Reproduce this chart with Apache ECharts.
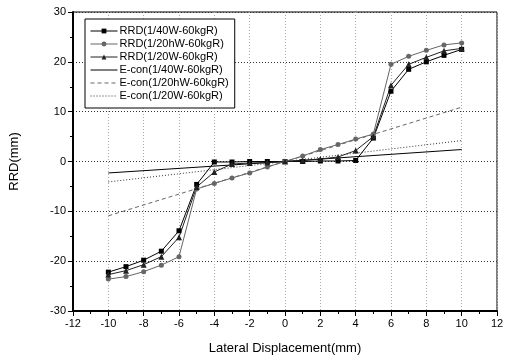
<!DOCTYPE html>
<html>
<head>
<meta charset="utf-8">
<script src="https://cdn.jsdelivr.net/npm/echarts@6/dist/echarts.min.js"></script>
<style>
  html, body { margin: 0; padding: 0; background: #fff; }
  #chart { width: 507px; height: 360px; }
</style>
</head>
<body>
<div id="chart"></div>
<script>
// lateral displacement steps (mm)
const xSteps = [-10, -9, -8, -7, -6, -5, -4, -3, -2, -1, 0, 1, 2, 3, 4, 5, 6, 7, 8, 9, 10]

// measured RRD (mm)
const rrd40W = [-22.2, -21.1, -19.8, -18.0, -13.9, -4.6, -0.1, -0.1, 0, 0, 0, 0, 0.1, 0.1, 0.2, 4.7, 14.1, 18.5, 20.0, 21.3, 22.5]
const rrd20hW = [-23.6, -23.1, -22.1, -20.8, -19.1, -5.5, -4.4, -3.3, -2.3, -1.1, 0, 1.1, 2.4, 3.4, 4.5, 5.5, 19.5, 21.1, 22.3, 23.4, 23.8]
const rrd20W = [-22.7, -21.9, -20.7, -19.1, -15.2, -5.1, -2.1, -0.5, -0.3, -0.2, 0, 0.2, 0.5, 0.9, 2.2, 5.0, 15.3, 19.5, 20.9, 22.2, 22.7]

// E-con lines, end points
const econX = [-10, 0, 10]
const econ40W = [-2.3, 0, 2.4]
const econ20hW = [-10.9, 0, 10.9]
const econ20W = [-4.1, 0, 4.2]

const xTicks = { min: -12, max: 12, interval: 2 }
const yTicks = { min: -30, max: 30, interval: 10 }

const pair = (xs, ys) => xs.map((x, i) => [x, ys[i]])

const font = '"Liberation Sans", Arial, sans-serif'

const myChart = echarts.init(document.getElementById('chart'))

const markerSeries = (name, data, symbol, size, color) => ({
  name,
  type: 'line',
  data: pair(xSteps, data),
  symbol,
  symbolSize: size,
  showAllSymbol: true,
  animation: false,
  lineStyle: { color, width: 1 },
  itemStyle: { color, borderWidth: 0 },
  z: 5,
})

const econSeries = (name, data, type, color) => ({
  name,
  type: 'line',
  data: pair(econX, data),
  symbol: 'none',
  animation: false,
  lineStyle: { color, width: 1, type },
  itemStyle: { color: 'rgba(0,0,0,0)', borderColor: 'rgba(0,0,0,0)', borderWidth: 0 },
  z: 4,
})

// legend entries of the E-con lines are bare lines
const hideMark = (name) => ({ name, itemStyle: { opacity: 0 } })

myChart.setOption({
  backgroundColor: '#fff',
  textStyle: { fontFamily: font },
  grid: {
    left: 73,
    right: 10,
    top: 12,
    bottom: 49,
    show: true,
    borderColor: '#000',
    borderWidth: 1,
  },
  legend: {
    orient: 'vertical',
    left: 85,
    top: 19,
    padding: [6, 6, 6, 5],
    itemGap: 1,
    itemWidth: 27,
    itemHeight: 6,
    backgroundColor: '#fff',
    borderColor: '#000',
    borderWidth: 1,
    lineStyle: { width: 1 },
    textStyle: { fontSize: 11, color: '#000', fontFamily: font, padding: [0, 0, 0, -3], lineHeight: 12 },
    data: [
      'RRD(1/40W-60kgR)',
      'RRD(1/20hW-60kgR)',
      'RRD(1/20W-60kgR)',
      hideMark('E-con(1/40W-60kgR)'),
      hideMark('E-con(1/20hW-60kgR)'),
      hideMark('E-con(1/20W-60kgR)'),
    ],
  },
  xAxis: {
    type: 'value',
    min: xTicks.min,
    max: xTicks.max,
    interval: xTicks.interval,
    name: 'Lateral Displacement(mm)',
    nameLocation: 'middle',
    nameGap: 31,
    nameTextStyle: { fontSize: 13, color: '#000', fontFamily: font },
    axisLine: { onZero: false, lineStyle: { color: '#000', width: 2 } },
    axisTick: { show: true, length: 5, lineStyle: { color: '#000', width: 1 } },
    minorTick: { show: true, splitNumber: 2, length: 3, lineStyle: { color: '#000', width: 1 } },
    axisLabel: { fontSize: 11, color: '#000', margin: 7, fontFamily: font },
    splitLine: { show: true, lineStyle: { color: '#aaa', type: [1, 2], width: 1 } },
  },
  yAxis: {
    type: 'value',
    min: yTicks.min,
    max: yTicks.max,
    interval: yTicks.interval,
    name: 'RRD(mm)',
    nameLocation: 'middle',
    nameGap: 52,
    nameTextStyle: { fontSize: 13, color: '#000', fontFamily: font },
    axisLine: { onZero: false, lineStyle: { color: '#000', width: 2 } },
    axisTick: { show: true, length: 5, lineStyle: { color: '#000', width: 1 } },
    minorTick: { show: true, splitNumber: 2, length: 3, lineStyle: { color: '#000', width: 1 } },
    axisLabel: { fontSize: 11, color: '#000', margin: 7, fontFamily: font },
    splitLine: { show: true, lineStyle: { color: '#333', type: [1, 2], width: 1 } },
  },
  series: [
    markerSeries('RRD(1/40W-60kgR)', rrd40W, 'rect', 5, '#000'),
    markerSeries('RRD(1/20hW-60kgR)', rrd20hW, 'circle', 5, '#666'),
    markerSeries('RRD(1/20W-60kgR)', rrd20W, 'triangle', 6, '#222'),
    econSeries('E-con(1/40W-60kgR)', econ40W, 'solid', '#000'),
    econSeries('E-con(1/20hW-60kgR)', econ20hW, [4, 3], '#666'),
    econSeries('E-con(1/20W-60kgR)', econ20W, [1, 2], '#333'),
  ],
})
</script>
</body>
</html>
